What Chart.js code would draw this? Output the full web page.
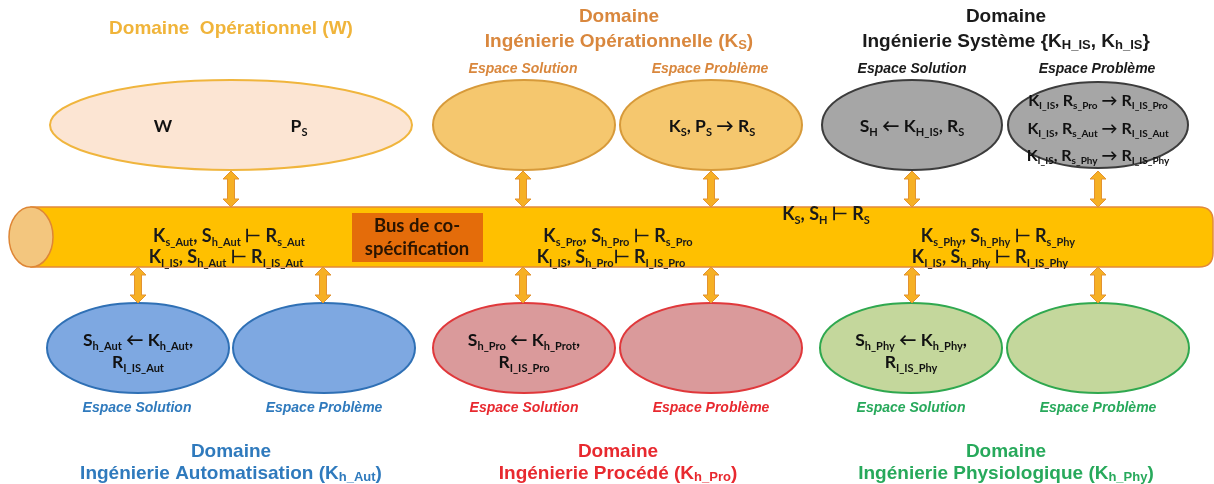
<!DOCTYPE html>
<html><head><meta charset="utf-8">
<script src="https://cdn.jsdelivr.net/npm/chart.js@4.4.1/dist/chart.umd.min.js"></script>
<style>html,body{margin:0;padding:0;background:#fff;overflow:hidden}#wrap{width:1214px;height:484px;position:relative}</style>
</head><body><div id="wrap"><canvas id="c"></canvas></div>
<script>
// ---- data (labels & diagram node values) ----
const domainTitles = [
  ["Domaine  Opérationnel (W)"],
  ["Domaine", "Ingénierie Opérationnelle (K_{S})"],
  ["Domaine", "Ingénierie Système {K_{H_IS}, K_{h_IS}}"],
  ["Domaine", "Ingénierie Automatisation (K_{h_Aut})"],
  ["Domaine", "Ingénierie Procédé (K_{h_Pro})"],
  ["Domaine", "Ingénierie Physiologique (K_{h_Phy})"]
];
const spaceLabels = ["Espace Solution", "Espace Problème"];
const ellipseNames = ["W", "KsSol", "KsPb", "ISSol", "ISPb", "AutSol", "AutPb", "ProSol", "ProPb", "PhySol", "PhyPb"];
const ellipseTexts = [
  ["W", "P_{S}"],
  [],
  ["K_{S}, P_{S} → R_{S}"],
  ["S_{H} ← K_{H_IS}, R_{S}"],
  ["K_{I_IS}, R_{s_Pro} → R_{I_IS_Pro}", "K_{I_IS}, R_{s_Aut} → R_{I_IS_Aut}", "K_{I_IS}, R_{s_Phy} → R_{I_IS_Phy}"],
  ["S_{h_Aut} ← K_{h_Aut},", "R_{I_IS_Aut}"],
  [],
  ["S_{h_Pro} ← K_{h_Prot},", "R_{I_IS_Pro}"],
  [],
  ["S_{h_Phy} ← K_{h_Phy},", "R_{I_IS_Phy}"],
  []
];
const busTexts = [
  "K_{s_Aut}, S_{h_Aut} ⊢ R_{s_Aut}",
  "K_{I_IS}, S_{h_Aut} ⊢ R_{I_IS_Aut}",
  "K_{s_Pro}, S_{h_Pro} ⊢ R_{s_Pro}",
  "K_{I_IS}, S_{h_Pro}⊢ R_{I_IS_Pro}",
  "K_{S}, S_{H} ⊢ R_{S}",
  "K_{s_Phy}, S_{h_Phy} ⊢ R_{s_Phy}",
  "K_{I_IS}, S_{h_Phy} ⊢ R_{I_IS_Phy}"
];
const busLabel = ["Bus de co-", "spécification"];

// ---- layout (positions in diagram units) ----
const ellipseX = [231, 524, 711, 912, 1098, 138, 324, 524, 711, 911, 1098];
const ellipseY = [125, 125, 125, 125, 125, 348, 348, 348, 348, 348, 348];
const ellipseRX = [181, 91, 91, 90, 90, 91, 91, 91, 91, 91, 91];
const ellipseRY = [45, 45, 45, 45, 43, 45, 45, 45, 45, 45, 45];
const topArrowX = [231, 523, 711, 912, 1098];
const bottomArrowX = [138, 323, 523, 711, 912, 1098];

// ---- styles ----
const palette = {
  W:   {fill: "#FCE5D3", stroke: "#F0B53D", text: "#F0B43A"},
  Ks:  {fill: "#F5C76E", stroke: "#D79A3A", text: "#D9873D"},
  IS:  {fill: "#A6A6A6", stroke: "#3C3C3C", text: "#1A1A1A"},
  Aut: {fill: "#7EA8E1", stroke: "#2F70B5", text: "#2F7ABD"},
  Pro: {fill: "#DA9A9B", stroke: "#E0383B", text: "#E8292F"},
  Phy: {fill: "#C4D79C", stroke: "#2FA84F", text: "#27A95B"}
};
const ellipseTheme = ["W", "Ks", "Ks", "IS", "IS", "Aut", "Aut", "Pro", "Pro", "Phy", "Phy"];
const titleTheme = ["W", "Ks", "IS", "Aut", "Pro", "Phy"];

function parseRich(str) {
  const segs = [];
  let i = 0, buf = "";
  while (i < str.length) {
    if (str[i] === "_" && str[i + 1] === "{") {
      if (buf) { segs.push({t: buf, sub: false}); buf = ""; }
      const j = str.indexOf("}", i);
      segs.push({t: str.slice(i + 2, j), sub: true});
      i = j + 1;
    } else { buf += str[i]; i++; }
  }
  if (buf) segs.push({t: buf, sub: false});
  return segs;
}
function drawRich(ctx, str, cx, cy, size, color, family, style, subRatio, subDrop) {
  const segs = parseRich(str);
  const sr = subRatio || 0.62;
  const sd = subDrop === undefined ? 0.2 : subDrop;
  const mainF = `${style} ${size}px ${family}`;
  const subF = `${style} ${Math.round(size * sr)}px ${family}`;
  let w = 0;
  segs.forEach(s => { ctx.font = s.sub ? subF : mainF; s.w = ctx.measureText(s.t).width; w += s.w; });
  let x = cx - w / 2;
  const base = cy + size * 0.36;
  ctx.fillStyle = color;
  ctx.textAlign = "left";
  ctx.textBaseline = "alphabetic";
  segs.forEach(s => {
    ctx.font = s.sub ? subF : mainF;
    ctx.fillText(s.t, x, s.sub ? base + size * sd : base);
    x += s.w;
  });
}

const diagramPlugin = {
  id: "diagram",
  afterDatasetsDraw(chart) {
    const ctx = chart.ctx;
    const xs = chart.scales.x, ys = chart.scales.y;
    const X = v => xs.getPixelForValue(v);
    const Y = v => ys.getPixelForValue(v);
    const DX = d => Math.abs(xs.getPixelForValue(d) - xs.getPixelForValue(0));
    const DY = d => Math.abs(ys.getPixelForValue(d) - ys.getPixelForValue(0));
    ctx.save();

    // ellipses
    ellipseNames.forEach((n, i) => {
      const p = palette[ellipseTheme[i]];
      ctx.beginPath();
      ctx.ellipse(X(ellipseX[i]), Y(ellipseY[i]), DX(ellipseRX[i]), DY(ellipseRY[i]), 0, 0, Math.PI * 2);
      ctx.fillStyle = p.fill; ctx.fill();
      ctx.lineWidth = 2; ctx.strokeStyle = p.stroke; ctx.stroke();
    });

    // bus cylinder
    const bT = Y(207), bB = Y(267), bL = X(31), bR = X(1213), r = 14;
    ctx.beginPath();
    ctx.moveTo(bL, bT);
    ctx.lineTo(bR - r, bT);
    ctx.quadraticCurveTo(bR, bT, bR, bT + r);
    ctx.lineTo(bR, bB - r);
    ctx.quadraticCurveTo(bR, bB, bR - r, bB);
    ctx.lineTo(bL, bB);
    ctx.closePath();
    ctx.fillStyle = "#FFC000"; ctx.fill();
    ctx.lineWidth = 1.5; ctx.strokeStyle = "#E2893A"; ctx.stroke();
    ctx.beginPath();
    ctx.ellipse(bL, (bT + bB) / 2, DX(22), (bB - bT) / 2, 0, 0, Math.PI * 2);
    ctx.fillStyle = "#F3C67E"; ctx.fill();
    ctx.lineWidth = 1.5; ctx.strokeStyle = "#DE8636"; ctx.stroke();

    // bus label box
    ctx.fillStyle = "#E46C0A";
    ctx.fillRect(X(352), Y(213), DX(131), DY(49));
    drawRich(ctx, busLabel[0], X(417), Y(225), 18.5, "#2A1400", "Lato", "bold");
    drawRich(ctx, busLabel[1], X(417), Y(248), 18.5, "#2A1400", "Lato", "bold");

    // arrows
    function dArrow(x, y1, y2) {
      const sw = 3.5, hw = 8, hl = 8;
      ctx.beginPath();
      ctx.moveTo(x, y1);
      ctx.lineTo(x + hw, y1 + hl);
      ctx.lineTo(x + sw, y1 + hl);
      ctx.lineTo(x + sw, y2 - hl);
      ctx.lineTo(x + hw, y2 - hl);
      ctx.lineTo(x, y2);
      ctx.lineTo(x - hw, y2 - hl);
      ctx.lineTo(x - sw, y2 - hl);
      ctx.lineTo(x - sw, y1 + hl);
      ctx.lineTo(x - hw, y1 + hl);
      ctx.closePath();
      ctx.fillStyle = "#F6B024"; ctx.fill();
      ctx.lineWidth = 1; ctx.strokeStyle = "#E39330"; ctx.stroke();
    }
    topArrowX.forEach(v => dArrow(X(v), Y(171), Y(207)));
    bottomArrowX.forEach(v => dArrow(X(v), Y(267), Y(303)));

    // domain titles
    const titleX = [231, 619, 1006, 231, 618, 1006];
    const titleY = [[27], [15, 40], [15, 40], [450, 472], [450, 472], [450, 472]];
    domainTitles.forEach((lines, i) => {
      lines.forEach((t, k) => drawRich(ctx, t, X(titleX[i]), Y(titleY[i][k]), 19, palette[titleTheme[i]].text, "'Liberation Sans', Arial, sans-serif", "bold", 0.7, 0.12));
    });

    // espace labels
    const spaceX = [[523, 710], [912, 1097], [137, 324], [524, 711], [911, 1098]];
    const spaceY = [68, 68, 407, 407, 407];
    const spaceTheme = ["Ks", "IS", "Aut", "Pro", "Phy"];
    spaceX.forEach((pair, i) => {
      pair.forEach((x, k) => drawRich(ctx, spaceLabels[k], X(x), Y(spaceY[i]), 14, palette[spaceTheme[i]].text, "'Liberation Sans', Arial, sans-serif", "italic bold"));
    });

    // ellipse texts
    const etPos = [
      [[163, 126], [299, 126]],
      [],
      [[712, 126]],
      [[912, 126]],
      [[1098, 100], [1098, 128], [1098, 155]],
      [[138, 340], [138, 362]],
      [],
      [[524, 340], [524, 362]],
      [],
      [[911, 340], [911, 362]],
      []
    ];
    ellipseTexts.forEach((lines, i) => {
      lines.forEach((t, k) => {
        const size = i === 4 ? 16 : 17.5;
        drawRich(ctx, t, X(etPos[i][k][0]), Y(etPos[i][k][1]), size, "#111", "Lato", "bold");
      });
    });

    // bus texts
    const busPos = [[229, 236], [226, 257], [618, 236], [611, 257], [826, 214], [998, 236], [990, 257]];
    busTexts.forEach((t, i) => drawRich(ctx, t, X(busPos[i][0]), Y(busPos[i][1]), 18, "#1A1A1A", "Lato", "bold"));

    ctx.restore();
  }
};

new Chart(document.getElementById("c"), {
  type: "scatter",
  data: {
    datasets: [{
      label: "nodes",
      data: ellipseX.map((x, i) => ({x, y: ellipseY[i]})),
      pointRadius: 0,
      showLine: false
    }]
  },
  options: {
    responsive: true,
    maintainAspectRatio: false,
    animation: false,
    layout: {padding: 0},
    plugins: {legend: {display: false}, tooltip: {enabled: false}},
    events: [],
    scales: {
      x: {type: "linear", min: 0, max: 1214, display: false},
      y: {type: "linear", min: 0, max: 484, reverse: true, display: false}
    }
  },
  plugins: [diagramPlugin]
});
</script>
</body></html>
